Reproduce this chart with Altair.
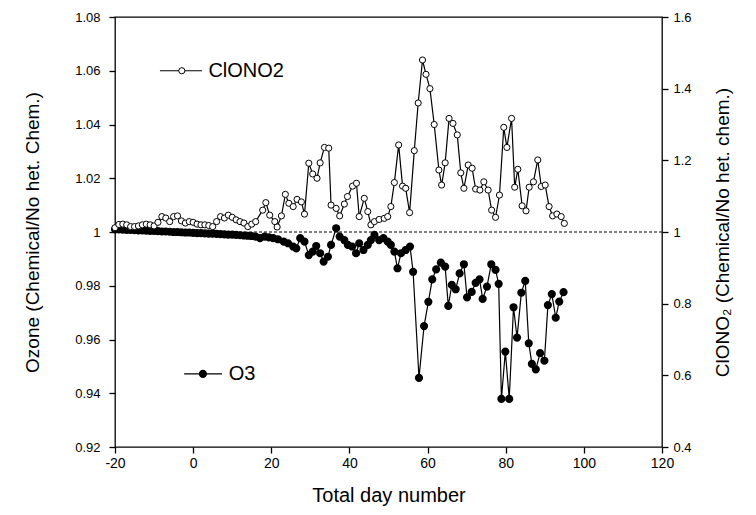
import altair as alt
import pandas as pd

FONT = "Liberation Sans"
W, H = 547, 430

# ---------------- data ----------------
cl_day = [-20, -19, -18, -17, -16, -15, -14, -13, -12, -11, -10, -9, -8, -7, -6, -5, -4, -3, -2, -1,
          0, 1, 2, 3, 4, 5, 6, 7, 8, 9, 10, 11, 12, 13, 14, 15, 16,
          17.8, 18.6, 19.6, 20.9, 21.5, 22.6, 23.6, 24.5, 25.6, 26.6, 27.7, 28.5, 29.6, 30.6, 31.7,
          32.5, 33.6, 34.7, 35.3, 36.6, 37.5, 38.7, 39.5, 40.8, 41.8, 42.5, 43.8, 44.7, 45.5, 46.4,
          47.6, 48.9, 49.8, 50.6, 51.5, 52.6, 53.6, 54.4, 55.4, 56.6, 57.6, 58.7, 59.6, 60.6, 61.7,
          62.9, 63.6, 64.5, 65.5, 66.5, 67.6, 68.5, 69.3, 70.4, 71.4, 72.3, 73.4, 74.4, 75.5, 76.4,
          77.4, 78.4, 79.5, 80.3, 81.5, 82.3, 83.1, 84.2, 85.2, 86.0, 87.1, 88.2, 89.1, 90.1, 91.1,
          92.0, 93.1, 94.2, 95.0]
cl_val = [1.012, 1.021, 1.022, 1.020, 1.015, 1.015, 1.017, 1.020, 1.022, 1.020, 1.017, 1.027, 1.043,
          1.039, 1.029, 1.043, 1.045, 1.031, 1.025, 1.029, 1.027, 1.022, 1.020, 1.020, 1.018, 1.015,
          1.029, 1.043, 1.039, 1.047, 1.041, 1.034, 1.029, 1.025, 1.015, 1.022, 1.029,
          1.061, 1.082, 1.047, 1.029, 1.014, 1.045, 1.105, 1.080, 1.071, 1.091, 1.084, 1.050, 1.192,
          1.162, 1.150, 1.193, 1.236, 1.234, 1.075, 1.066, 1.045, 1.078, 1.099, 1.128, 1.136, 1.043,
          1.094, 1.057, 1.020, 1.029, 1.035, 1.038, 1.043, 1.071, 1.138, 1.243, 1.128, 1.122, 1.054,
          1.227, 1.36, 1.48, 1.44, 1.40, 1.30, 1.173, 1.131, 1.193, 1.317, 1.303, 1.271, 1.165,
          1.122, 1.187, 1.178, 1.120, 1.117, 1.140, 1.117, 1.061, 1.041, 1.103, 1.292, 1.236, 1.317,
          1.125, 1.175, 1.073, 1.059, 1.125, 1.140, 1.201, 1.127, 1.131, 1.071, 1.045, 1.050, 1.043,
          1.024]

o3_day = [-20, -19, -18, -17, -16, -15, -14, -13, -12, -11, -10, -9, -8, -7, -6, -5, -4, -3, -2, -1,
          0, 1, 2, 3, 4, 5, 6, 7, 8, 9, 10, 11, 12, 13, 14, 15, 16,
          17.1, 18.3, 19.4, 20.5, 21.7, 23.2, 24.3, 25.6, 26.4, 27.4, 28.5, 29.6, 30.6, 31.5, 32.5,
          33.4, 34.5, 35.3, 36.6, 37.5, 38.7, 39.6, 40.7, 41.7, 42.5, 43.6, 44.7, 45.5, 46.4, 47.6,
          48.7, 49.8, 50.6, 51.5, 52.3, 53.2, 54.4, 55.5, 56.3, 57.8, 59.1, 60.2, 61.2, 62.2, 63.4,
          64.5, 65.3, 66.2, 67.2, 68.2, 69.3, 70.1, 71.3, 72.3, 73.3, 74.1, 75.2, 76.3, 77.4, 78.2,
          78.9, 79.9, 80.9, 82.0, 82.9, 84.0, 85.0, 85.9, 86.7, 87.7, 88.8, 89.9, 90.8, 91.8, 92.8,
          93.7, 94.8]
o3_val = [1.0010, 1.0010, 1.0009, 1.0008, 1.0008, 1.0007, 1.0006, 1.0006, 1.0005, 1.0004, 1.0004,
          1.0003, 1.0002, 1.0002, 1.0001, 1.0000, 1.0000, 0.9999, 0.9998, 0.9998, 0.9997, 0.9996,
          0.9996, 0.9995, 0.9994, 0.9994, 0.9993, 0.9992, 0.9991, 0.9990, 0.9990, 0.9989, 0.9988,
          0.9987, 0.9986, 0.9985, 0.9983,
          0.9977, 0.9983, 0.9980, 0.9977, 0.9973, 0.9964, 0.9958, 0.9946, 0.9939, 0.9977, 0.9964,
          0.9914, 0.9927, 0.9948, 0.9921, 0.9890, 0.9908, 0.9952, 1.0014, 0.9983, 0.9970, 0.9952,
          0.9946, 0.9921, 0.9958, 0.9933, 0.9952, 0.9970, 0.9989, 0.9970, 0.9977, 0.9964, 0.9952,
          0.9927, 0.9865, 0.9921, 0.9933, 0.9946, 0.9852, 0.9457, 0.9650, 0.9740, 0.9824, 0.9861,
          0.9886, 0.9871, 0.9725, 0.9803, 0.9787, 0.9846, 0.9880, 0.9757, 0.9777, 0.9811, 0.9824,
          0.9751, 0.9797, 0.9880, 0.9859, 0.9807, 0.9379, 0.9555, 0.9379, 0.9720, 0.9607, 0.9774,
          0.9818, 0.9586, 0.9509, 0.9489, 0.9549, 0.9521, 0.9728, 0.9769, 0.9681, 0.9741, 0.9776]

x_major = [-20, 0, 20, 40, 60, 80, 100, 120]
yl_major = [0.92, 0.94, 0.96, 0.98, 1, 1.02, 1.04, 1.06, 1.08]
yr_major = [0.4, 0.6, 0.8, 1, 1.2, 1.4, 1.6]

leg_names = ["ClONO2", "O3"]
leg_line_x0 = [-8.5, -2.3]
leg_line_x1 = [2.3, 7.4]
leg_mark_x = [-2.9, 2.5]
leg_text_x = [3.4, 8.6]
leg_y = [1.06, 0.9472]

# ---------------- frames ----------------
o3 = pd.DataFrame({"day": o3_day, "ratio": o3_val})
cl = pd.DataFrame({"day": cl_day, "ratio": cl_val})
ref = pd.DataFrame({"ratio": [1.0]})
leg_line = pd.DataFrame({
    "series": leg_names + leg_names,
    "day": leg_line_x0 + leg_line_x1,
    "ratio": leg_y + leg_y,
})
leg_mark = pd.DataFrame({"series": leg_names, "day": leg_mark_x, "ratio": leg_y})
leg_text = pd.DataFrame({"series": leg_names, "day": leg_text_x, "ratio": leg_y})

xs = alt.Scale(domain=[-20, 120], nice=False, zero=False)
yl = alt.Scale(domain=[0.92, 1.08], nice=False, zero=False)
yr = alt.Scale(domain=[0.4, 1.6], nice=False, zero=False)

TICK = 6

x_main = alt.Axis(orient="bottom", values=x_major, labelExpr="toString(datum.value)",
                  ticks=True, tickSize=TICK, tickWidth=1.3, tickColor="black",
                  domain=False, grid=False, labelPadding=3, labelFlush=False,
                  labelOverlap=False, labelFontSize=14, labelColor="black",
                  title="Total day number", titleFontSize=20, titleFontWeight="normal",
                  titlePadding=15, titleColor="black")
yl_main = alt.Axis(orient="left", values=yl_major, labelExpr="toString(datum.value)",
                   ticks=True, tickSize=TICK, tickWidth=1.3, tickColor="black",
                   domain=False, grid=False, labelPadding=9, labelFlush=False,
                   labelOverlap=False, labelFontSize=13, labelColor="black",
                   title="Ozone (Chemical/No het. Chem.)", titleFontSize=19,
                   titleFontWeight="normal", titlePadding=32, titleColor="black")
yr_main = alt.Axis(orient="right", values=yr_major, labelExpr="toString(datum.value)",
                   ticks=True, tickSize=TICK, tickWidth=1.3, tickColor="black",
                   domain=False, grid=False, labelPadding=5, labelFlush=False,
                   labelOverlap=False, labelFontSize=13, labelColor="black",
                   title="ClONO\u2082 (Chemical/No het. chem.)", titleFontSize=19,
                   titleFontWeight="normal", titleAngle=270, titleBaseline="top",
                   titlePadding=22, titleColor="black")

rule_layer = alt.Chart(ref).mark_rule(color="black", strokeWidth=1.1, strokeDash=[3, 2]).encode(
    y=alt.Y("ratio:Q", scale=yl, axis=None)
)

o3_layer = alt.Chart(o3).mark_line(
    color="black", strokeWidth=1.2,
    point=alt.OverlayMarkDef(shape="circle", filled=True, fill="black", stroke="black", size=38),
).encode(
    x=alt.X("day:Q", scale=xs, axis=x_main),
    y=alt.Y("ratio:Q", scale=yl, axis=yl_main),
    order="day:Q",
)

cl_layer = alt.Chart(cl).mark_line(
    color="black", strokeWidth=1.2,
    point=alt.OverlayMarkDef(shape="circle", filled=True, fill="white", stroke="black",
                             strokeWidth=1, size=38),
).encode(
    x=alt.X("day:Q", scale=xs, axis=None),
    y=alt.Y("ratio:Q", scale=yr, axis=yr_main),
    order="day:Q",
)

leg_line_layer = alt.Chart(leg_line).mark_line(color="black", strokeWidth=1.2).encode(
    x=alt.X("day:Q", scale=xs, axis=None),
    y=alt.Y("ratio:Q", scale=yl, axis=None),
    detail="series:N",
)
leg_open = alt.Chart(leg_mark[leg_mark.series == "ClONO2"]).mark_point(
    shape="circle", filled=True, fill="white", stroke="black", strokeWidth=1, size=38, opacity=1
).encode(
    x=alt.X("day:Q", scale=xs, axis=None),
    y=alt.Y("ratio:Q", scale=yl, axis=None),
)
leg_fill = alt.Chart(leg_mark[leg_mark.series == "O3"]).mark_point(
    shape="circle", filled=True, fill="black", stroke="black", size=38, opacity=1
).encode(
    x=alt.X("day:Q", scale=xs, axis=None),
    y=alt.Y("ratio:Q", scale=yl, axis=None),
)
leg_txt = alt.Chart(leg_text).mark_text(
    align="left", baseline="middle", font=FONT, fontSize=20, color="black", dx=2
).encode(
    x=alt.X("day:Q", scale=xs, axis=None),
    y=alt.Y("ratio:Q", scale=yl, axis=None),
    text="series:N",
)

chart = alt.layer(
    rule_layer, o3_layer, cl_layer,
    leg_line_layer, leg_open, leg_fill, leg_txt
).resolve_scale(
    y="independent"
).resolve_axis(
    x="independent", y="independent"
).properties(
    width=W, height=H,
    autosize=alt.AutoSizeParams(type="none"),
    padding={"left": 115, "top": 17, "right": 94, "bottom": 68},
    background="white",
).configure_view(
    stroke="black", strokeWidth=1.3
).configure_axis(
    labelFont=FONT, titleFont=FONT
)

chart.save("out.html", embed_options={"renderer": "svg", "actions": False})
